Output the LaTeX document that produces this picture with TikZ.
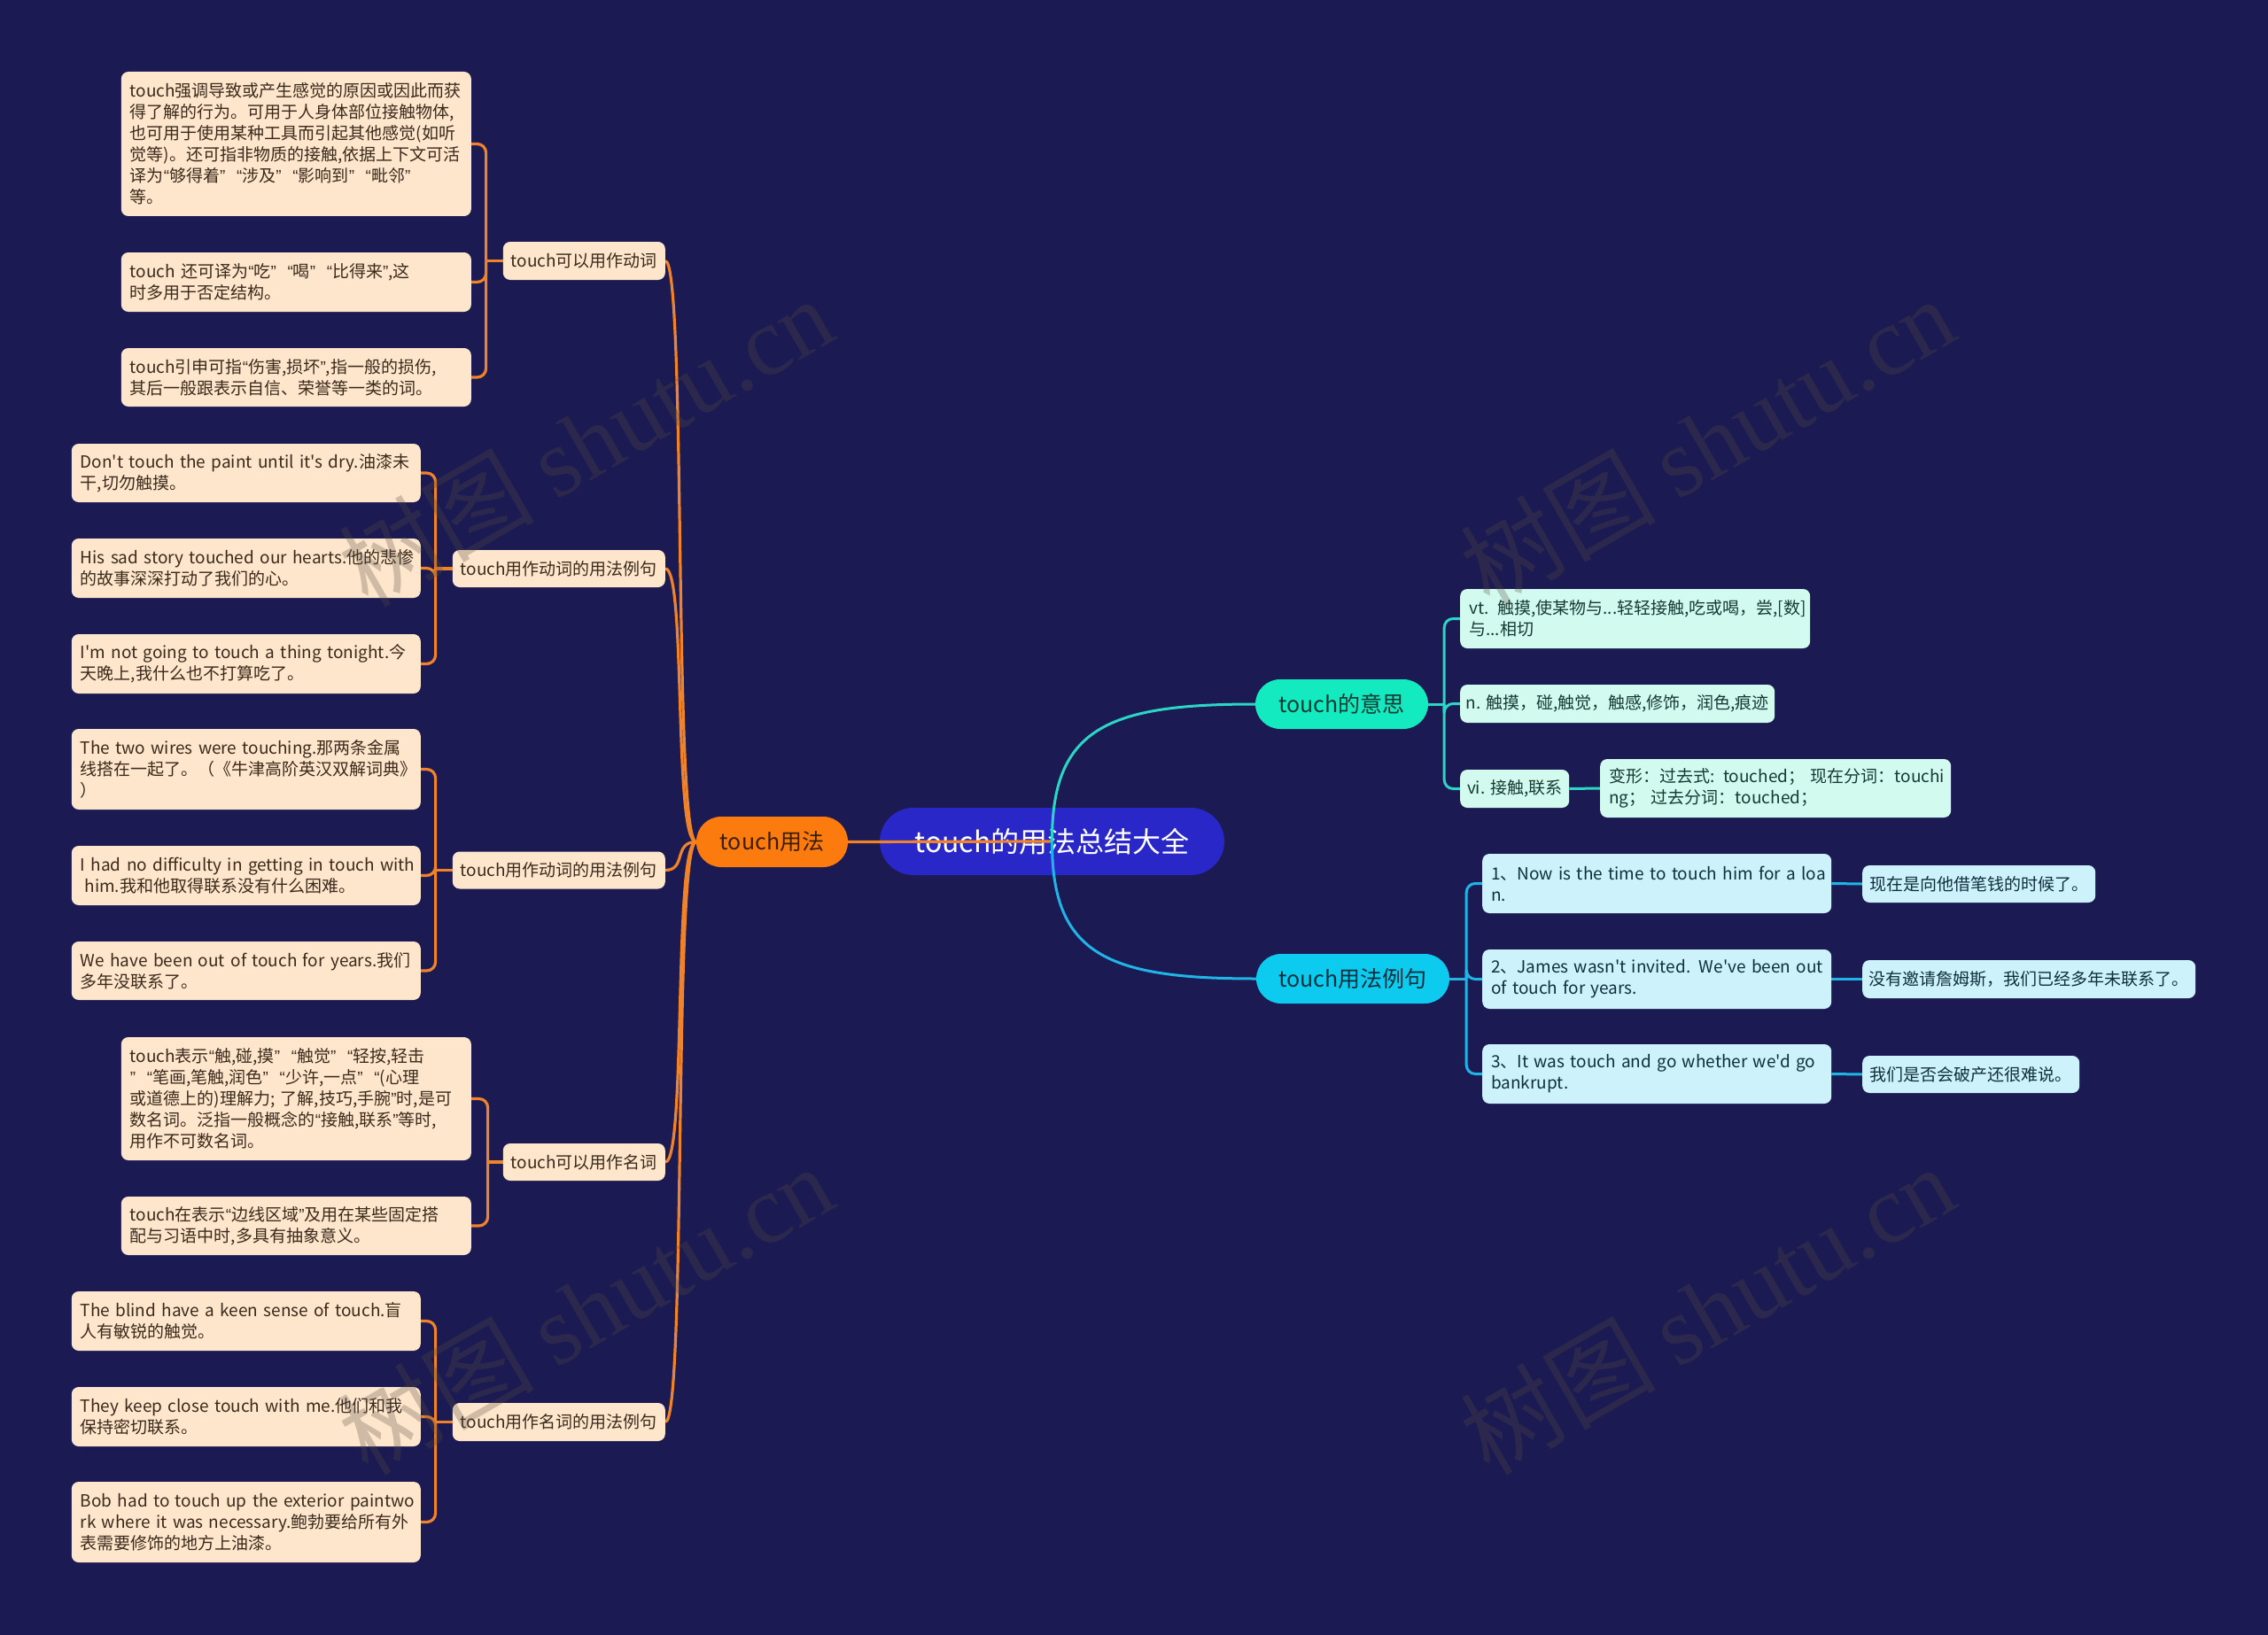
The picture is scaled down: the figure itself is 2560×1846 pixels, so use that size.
\documentclass[tikz,border=0pt]{standalone}
\usepackage{fontspec}
\setmainfont{Noto Sans CJK SC}[Ligatures=TeXOff]
\newfontfamily\wmserif{Liberation Serif}
\newfontfamily\qfont{Liberation Sans}
\newcommand{\lqm}{{\qfont “}}
\newcommand{\rqm}{{\qfont ”}}
\newcommand{\nb}[1]{\mbox{#1}}
\pgfdeclarelayer{bgl}
\pgfdeclarelayer{edgel}
\pgfsetlayers{bgl,edgel,main}
\definecolor{bgc}{HTML}{1B1A52}
\definecolor{peach}{HTML}{FDE6CC}
\definecolor{peachtxt}{HTML}{3B2A1C}
\definecolor{orangeline}{HTML}{F0822A}
\definecolor{orangenode}{HTML}{FB7B0F}
\definecolor{orangetxt}{HTML}{3A1E0A}
\definecolor{rootc}{HTML}{2A27C8}
\definecolor{mint}{HTML}{D3FAEF}
\definecolor{mintnode}{HTML}{13EABF}
\definecolor{minttxt}{HTML}{163A33}
\definecolor{tealline}{HTML}{2CD6C4}
\definecolor{sky}{HTML}{CDF2FB}
\definecolor{skynode}{HTML}{0CCBEF}
\definecolor{skytxt}{HTML}{102F3D}
\definecolor{skyline}{HTML}{1FB5E6}
\definecolor{wmc}{RGB}{85,75,65}
\tikzset{
  txtf/.style={font=\fontsize{19}{24}\selectfont},
  leafo/.style={txtf, rounded corners=8pt, fill=peach, text=peachtxt, inner xsep=10pt, inner ysep=0pt, align=left, text width=#1-20pt},
  subo/.style={txtf, rounded corners=8pt, fill=peach, text=peachtxt, inner sep=0pt, align=center, minimum height=43pt},
  leafm/.style={txtf, rounded corners=8pt, fill=mint, text=minttxt, inner xsep=10pt, inner ysep=0pt, align=left, text width=#1-20pt},
  onem/.style={txtf, rounded corners=8pt, fill=mint, text=minttxt, inner sep=0pt, align=center, minimum height=43pt},
  leafs/.style={txtf, rounded corners=8pt, fill=sky, text=skytxt, inner xsep=10pt, inner ysep=0pt, align=left, text width=#1-20pt},
  ones/.style={txtf, rounded corners=8pt, fill=sky, text=skytxt, inner sep=0pt, align=center, minimum height=42pt},
  mainn/.style={font=\fontsize{25}{30}\selectfont, rounded corners=28pt, inner sep=0pt, minimum height=56pt},
  rootn/.style={font=\fontsize{32}{38}\selectfont, rounded corners=38pt, inner sep=0pt, fill=rootc, text=white, minimum height=76pt},
  oline/.style={draw=orangeline, line width=3.2pt},
  tline/.style={draw=tealline, line width=3pt},
  sline/.style={draw=skyline, line width=3pt},
  wmark/.style={text=wmc, opacity=0.28, rotate=30, font=\fontsize{110}{120}\selectfont}
}
\begin{document}
\begin{tikzpicture}[x=1pt,y=-1pt]
\useasboundingbox (0,0) rectangle (2560,1846);
\begin{pgfonlayer}{bgl}
\fill[bgc] (0,0) rectangle (2560,1846);
\end{pgfonlayer}

% main branch nodes
\node[mainn, fill=orangenode, text=orangetxt, minimum width=171pt, minimum height=57pt] (tp) at (871.5,950.5) {touch用法};
\node[mainn, fill=mintnode, text=minttxt, minimum width=195pt] (m) at (1514.5,795) {touch的意思};
\node[mainn, fill=skynode, text=skytxt, minimum width=218pt] (e) at (1527,1105) {touch用法例句};

% orange sub nodes
\node[subo, anchor=east, minimum width=183pt] (s1) at (751,294.5) {touch可以用作动词};
\node[subo, anchor=east, minimum width=240pt, minimum height=42pt] (s2) at (751,642) {touch用作动词的用法例句};
\node[subo, anchor=east, minimum width=240pt, minimum height=42pt] (s3) at (751,982.5) {touch用作动词的用法例句};
\node[subo, anchor=east, minimum width=183pt, minimum height=42pt] (s4) at (751,1312) {touch可以用作名词};
\node[subo, anchor=east, minimum width=240pt] (s5) at (751,1605.5) {touch用作名词的用法例句};

% orange leaves
\node[leafo=395pt, anchor=east, minimum height=163pt] (l11) at (532,162.5) {touch强调导致或产生感觉的原因或因此而获\\得了解的行为。可用于人身体部位接触物体,\\也可用于使用某种工具而引起其他感觉(如听\\觉等)。还可指非物质的接触,依据上下文可活\\\nb{译为\lqm 够得着\rqm\ \ \lqm 涉及\rqm\ \ \lqm 影响到\rqm\ \ \lqm 毗邻\rqm}\\等。};
\node[leafo=395pt, anchor=east, minimum height=67pt] (l12) at (532,318.5) {\nb{touch 还可译为\lqm 吃\rqm\ \ \lqm 喝\rqm\ \ \lqm 比得来\rqm ,这}\\时多用于否定结构。};
\node[leafo=395pt, anchor=east, minimum height=66pt] (l13) at (532,426) {touch引申可指\lqm 伤害,损坏\rqm ,指一般的损伤,\\其后一般跟表示自信、荣誉等一类的词。};

\node[leafo=394pt, anchor=east, minimum height=66pt] (l21) at (475,534) {\nb{Don't touch the paint until it's dry.油漆未}\\干,切勿触摸。};
\node[leafo=394pt, anchor=east, minimum height=67pt] (l22) at (475,641.5) {\nb{His sad story touched our hearts.他的悲惨}\\的故事深深打动了我们的心。};
\node[leafo=394pt, anchor=east, minimum height=67pt] (l23) at (475,749.5) {\nb{I'm not going to touch a thing tonight.今}\\天晚上,我什么也不打算吃了。};

\node[leafo=394pt, anchor=east, minimum height=91pt] (l31) at (475,868.5) {\nb{The two wires were touching.那两条金属}\\线搭在一起了。（《牛津高阶英汉双解词典》\\）};
\node[leafo=394pt, anchor=east, minimum height=67pt] (l32) at (475,988.5) {\nb{I had no difficulty in getting in touch with}\\\hspace*{0.25em}him.我和他取得联系没有什么困难。};
\node[leafo=394pt, anchor=east, minimum height=66pt] (l33) at (475,1096) {\nb{We have been out of touch for years.我们}\\多年没联系了。};

\node[leafo=395pt, anchor=east, minimum height=139pt] (l41) at (532,1240.5) {\nb{touch表示\lqm 触,碰,摸\rqm\ \ \lqm 触觉\rqm\ \ \lqm 轻按,轻击}\\\nb{\rqm\ \ \lqm 笔画,笔触,润色\rqm\ \ \lqm 少许,一点\rqm\ \ \lqm (心理}\\\nb{或道德上的)理解力; 了解,技巧,手腕\rqm 时,是可}\\数名词。泛指一般概念的\lqm 接触,联系\rqm 等时,\\用作不可数名词。};
\node[leafo=395pt, anchor=east, minimum height=66pt] (l42) at (532,1384) {touch在表示\lqm 边线区域\rqm 及用在某些固定搭\\配与习语中时,多具有抽象意义。};

\node[leafo=394pt, anchor=east, minimum height=67pt] (l51) at (475,1491.5) {\nb{The blind have a keen sense of touch.盲}\\人有敏锐的触觉。};
\node[leafo=394pt, anchor=east, minimum height=67pt] (l52) at (475,1599.5) {\nb{They keep close touch with me.他们和我}\\保持密切联系。};
\node[leafo=394pt, anchor=east, minimum height=91pt] (l53) at (475,1718.5) {\nb{Bob had to touch up the exterior paintwo}\\\nb{rk where it was necessary.鲍勃要给所有外}\\表需要修饰的地方上油漆。};

% meaning leaves
\node[leafm=395pt, anchor=west, minimum height=67pt] (r1) at (1648,698.5) {\nb{vt. 触摸,使某物与...轻轻接触,吃或喝，尝,[数]}\\与...相切};
\node[onem, anchor=west, minimum width=355pt] (r2) at (1648,794.5) {n. 触摸，碰,触觉，触感,修饰，润色,痕迹};
\node[onem, anchor=west, minimum width=123pt] (r3) at (1648,890.5) {vi. 接触,联系};
\node[leafm=396pt, anchor=west, minimum height=66pt] (r4) at (1806,890) {\nb{变形：过去式: touched； 现在分词：touchi}\\\nb{ng； 过去分词：touched；}};

% example leaves
\node[leafs=394pt, anchor=west, minimum height=67pt] (e1) at (1673,997.5) {\nb{1、Now is the time to touch him for a loa}\\n.};
\node[leafs=394pt, anchor=west, minimum height=67pt] (e2) at (1673,1105.5) {\nb{2、James wasn't invited. We've been out}\\\nb{of touch for years.}};
\node[leafs=394pt, anchor=west, minimum height=67pt] (e3) at (1673,1212.5) {\nb{3、It was touch and go whether we'd go}\\bankrupt.};
\node[ones, anchor=west, minimum width=263pt] (t1) at (2102,998) {现在是向他借笔钱的时候了。};
\node[ones, anchor=west, minimum width=376pt, minimum height=43pt] (t2) at (2102,1105.5) {没有邀请詹姆斯，我们已经多年未联系了。};
\node[ones, anchor=west, minimum width=245pt] (t3) at (2102,1213) {我们是否会破产还很难说。};

\begin{pgfonlayer}{edgel}
% spine
\foreach \s in {s1,s2,s3,s4,s5}
  \draw[oline] (tp.west) .. controls +(-26,0) and +(24,0) .. (\s.east);
% brackets orange
\draw[oline] (s1.west) -- ++(-19,0) coordinate (j1);
\foreach \l in {l11,l12,l13} \draw[oline, rounded corners=10pt] (j1) |- (\l.east);
\draw[oline] (s2.west) -- ++(-19,0) coordinate (j2);
\foreach \l in {l21,l22,l23} \draw[oline, rounded corners=10pt] (j2) |- (\l.east);
\draw[oline] (s3.west) -- ++(-19,0) coordinate (j3);
\foreach \l in {l31,l32,l33} \draw[oline, rounded corners=10pt] (j3) |- (\l.east);
\draw[oline] (s4.west) -- ++(-17,0) coordinate (j4);
\foreach \l in {l41,l42} \draw[oline, rounded corners=10pt] (j4) |- (\l.east);
\draw[oline] (s5.west) -- ++(-19,0) coordinate (j5);
\foreach \l in {l51,l52,l53} \draw[oline, rounded corners=10pt] (j5) |- (\l.east);
% right brackets
\draw[tline] (m.east) -- ++(18,0) coordinate (jm);
\foreach \l in {r1,r2,r3} \draw[tline, rounded corners=10pt] (jm) |- (\l.west);
\draw[tline] (r3.east) -- (r4.west);
\draw[sline] (e.east) -- ++(19,0) coordinate (je);
\foreach \l in {e1,e2,e3} \draw[sline, rounded corners=10pt] (je) |- (\l.west);
\draw[sline] (e1.east) -- (t1.west);
\draw[sline] (e2.east) -- (t2.west);
\draw[sline] (e3.east) -- (t3.west);
% root and its connectors
\node[rootn, minimum width=389pt] (root) at (1187.5,950) {touch的用法总结大全};
\draw[oline] (root.center) -- (tp.east);
\draw[tline] (root.center) .. controls (1187,822) and (1250,795) .. (m.west);
\draw[sline] (root.center) .. controls (1187,1078) and (1250,1105) .. (e.west);
\end{pgfonlayer}

% watermarks
\node[wmark] (w1) at (661,498) {树图 {\wmserif shutu.cn}};
\node[wmark] (w2) at (661,1478) {树图 {\wmserif shutu.cn}};
\node[wmark] (w3) at (1927,498) {树图 {\wmserif shutu.cn}};
\node[wmark] (w4) at (1927,1478) {树图 {\wmserif shutu.cn}};
\end{tikzpicture}
\end{document}
